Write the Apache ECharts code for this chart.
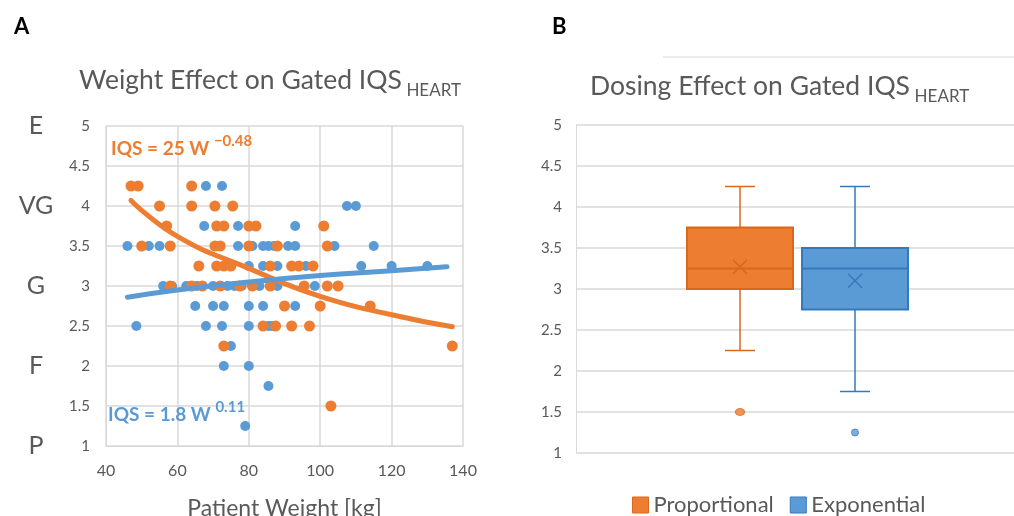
<!DOCTYPE html>
<html>
<head>
<meta charset="utf-8">
<script src="https://cdn.jsdelivr.net/npm/echarts@6/dist/echarts.min.js"></script>
<style>
  html, body { margin: 0; padding: 0; background: #fff; }
  #chart { width: 1014px; height: 516px; }
</style>
</head>
<body>
<div id="chart"></div>
<script>
// panel A (weight kg, IQS)
const orangeWeight = [47, 49, 64, 55, 64, 70.5, 75.5, 57, 71, 73, 80, 82, 101,
  50, 58, 70.5, 72, 80, 88, 102, 66, 71, 73, 75, 86, 92, 94, 98,
  58, 64, 67, 72, 77.5, 81, 86, 95.5, 102, 105, 90, 100, 114,
  84, 87.5, 92, 97, 73, 137, 103];
const orangeIqs = [4.25, 4.25, 4.25, 4, 4, 4, 4, 3.75, 3.75, 3.75, 3.75, 3.75, 3.75,
  3.5, 3.5, 3.5, 3.5, 3.5, 3.5, 3.5, 3.25, 3.25, 3.25, 3.25, 3.25, 3.25, 3.25, 3.25,
  3, 3, 3, 3, 3, 3, 3, 3, 3, 3, 2.75, 2.75, 2.75,
  2.5, 2.5, 2.5, 2.5, 2.25, 2.25, 1.5];
const blueWeight = [68, 72.5, 107.5, 110, 67.5, 77, 93, 101,
  46, 52, 55, 77, 81, 84, 85.5, 87, 91, 93, 104, 115,
  80, 84, 88, 94, 96, 111.5, 120, 130,
  56, 58.5, 62.5, 64, 65.5, 70, 72, 74, 76, 78, 83, 88, 98.5,
  65, 70, 73, 80, 84, 93,
  48.5, 68, 72.5, 80, 85.5, 86.5, 75, 73, 80, 85.5, 79];
const blueIqs = [4.25, 4.25, 4, 4, 3.75, 3.75, 3.75, 3.75,
  3.5, 3.5, 3.5, 3.5, 3.5, 3.5, 3.5, 3.5, 3.5, 3.5, 3.5, 3.5,
  3.25, 3.25, 3.25, 3.25, 3.25, 3.25, 3.25, 3.25,
  3, 3, 3, 3, 3, 3, 3, 3, 3, 3, 3, 3, 3,
  2.75, 2.75, 2.75, 2.75, 2.75, 2.75,
  2.5, 2.5, 2.5, 2.5, 2.5, 2.5, 2.25, 2, 2, 1.75, 1.25];

// trend lines at a few weights
const orangeTrendW = [47, 60, 80, 100, 120, 137];
const orangeTrendIqs = [4.07, 3.62, 3.22, 2.87, 2.64, 2.49];
const blueTrendW = [46, 60, 80, 100, 120, 135.5];
const blueTrendIqs = [2.86, 2.95, 3.05, 3.13, 3.19, 3.24];

const qualityLabels = ['P', 'F', 'G', 'VG', 'E'];

// panel B - box statistics [min, Q1, median, Q3, max]
const doseNames = ['Proportional', 'Exponential'];
const propBox = [2.25, 3.0, 3.25, 3.75, 4.25];
const propMean = 3.27;
const propOutliers = [1.5];
const expoBox = [1.75, 2.75, 3.25, 3.5, 4.25];
const expoMean = 3.1;
const expoOutliers = [1.25];

const ORANGE = '#ED7D31', ORANGE_DARK = '#D9681C';
const BLUE = '#5B9BD5', BLUE_DARK = '#3479BE';
const GREY = '#595959', LINE = '#d9d9d9';
const FONT = 'Lato';

function zip(a, b) {
  return a.map(function (v, i) { return [v, b[i]]; });
}

// box drawn with narrow whisker caps like the original
function boxRenderer(fill, stroke) {
  return function (params, api) {
    const cat = api.value(0);
    const cx = api.coord([cat, api.value(3)])[0];
    const yMin = api.coord([cat, api.value(1)])[1];
    const yQ1 = api.coord([cat, api.value(2)])[1];
    const yMed = api.coord([cat, api.value(3)])[1];
    const yQ3 = api.coord([cat, api.value(4)])[1];
    const yMax = api.coord([cat, api.value(5)])[1];
    const yMean = api.coord([cat, api.value(6)])[1];
    const hw = 53, cap = 15, xs = 7;
    const ln = function (x1, y1, x2, y2, w) {
      return { type: 'line', shape: { x1: x1, y1: y1, x2: x2, y2: y2 },
        style: { stroke: stroke, lineWidth: w || 1.5 } };
    };
    return {
      type: 'group',
      children: [
        ln(cx, yMax, cx, yQ3), ln(cx, yQ1, cx, yMin),
        ln(cx - cap, yMax, cx + cap, yMax), ln(cx - cap, yMin, cx + cap, yMin),
        { type: 'rect', shape: { x: cx - hw, y: yQ3, width: hw * 2, height: yQ1 - yQ3 },
          style: { fill: fill, stroke: stroke, lineWidth: 2 } },
        ln(cx - hw, yMed, cx + hw, yMed, 2),
        ln(cx - xs, yMean - xs, cx + xs, yMean + xs),
        ln(cx - xs, yMean + xs, cx + xs, yMean - xs)
      ]
    };
  };
}

const chart = echarts.init(document.getElementById('chart'));

const valY = {
  type: 'value', min: 1, max: 5, interval: 0.5,
  axisLine: { show: true, lineStyle: { color: LINE } },
  axisTick: { show: false },
  axisLabel: { color: GREY, fontSize: 15, fontFamily: FONT, margin: 14 },
  splitLine: { lineStyle: { color: LINE, width: 1.5 } }
};
const hiddenY = { type: 'value', min: 1, max: 5, show: false };

const titleRich = {
  m: { fontSize: 26.5, color: GREY, fontFamily: FONT, fontWeight: 'normal', verticalAlign: 'bottom', padding: [0, 0, 5, 0] },
  s: { fontSize: 17, color: GREY, fontFamily: FONT, fontWeight: 'normal', verticalAlign: 'bottom' }
};

// keep the grids where they are, the axis name may run off the bottom edge
const gridBase = { outerBoundsMode: 'none', containLabel: false };

const option = {
  animation: false,
  textStyle: { fontFamily: FONT },
  title: [
    { text: 'A', left: 9, top: 11, textStyle: { fontSize: 22, fontWeight: 'bold', color: '#000', fontFamily: FONT } },
    { text: 'B', left: 547, top: 11, textStyle: { fontSize: 22, fontWeight: 'bold', color: '#000', fontFamily: FONT } },
    {
      text: '{m|Weight Effect on Gated IQS} {s|HEART}', left: 74, top: 62,
      textStyle: { fontWeight: 'normal', rich: titleRich }
    },
    {
      text: '{m|Dosing Effect on Gated IQS} {s|HEART}', left: 585, top: 68,
      textStyle: { fontWeight: 'normal', rich: titleRich }
    }
  ],
  graphic: [
    { type: 'line', shape: { x1: 663, y1: 57, x2: 1014, y2: 57 }, style: { stroke: LINE, lineWidth: 1 } },
    {
      type: 'text', left: 111, top: 134, z: 10,
      style: {
        text: '{a|IQS = 25 W }{b|\u22120.48}',
        rich: {
          a: { fontSize: 19, fontWeight: 'bold', fill: ORANGE, fontFamily: FONT, verticalAlign: 'bottom' },
          b: { fontSize: 15, fontWeight: 'bold', fill: ORANGE, fontFamily: FONT, verticalAlign: 'bottom', padding: [0, 0, 9, 0] }
        }
      }
    },
    {
      type: 'text', left: 108, top: 400, z: 10,
      style: {
        text: '{a|IQS = 1.8 W }{b|0.11}',
        rich: {
          a: { fontSize: 19, fontWeight: 'bold', fill: BLUE, fontFamily: FONT, verticalAlign: 'bottom' },
          b: { fontSize: 15, fontWeight: 'bold', fill: BLUE, fontFamily: FONT, verticalAlign: 'bottom', padding: [0, 0, 9, 0] }
        }
      }
    }
  ],
  legend: {
    left: 627, top: 489, itemWidth: 16, itemHeight: 16, itemGap: 16,
    textStyle: { fontSize: 22, color: GREY, fontFamily: FONT },
    data: [
      { name: doseNames[0], icon: 'rect', itemStyle: { color: ORANGE, borderColor: ORANGE_DARK, borderWidth: 1 } },
      { name: doseNames[1], icon: 'rect', itemStyle: { color: BLUE, borderColor: BLUE_DARK, borderWidth: 1 } }
    ]
  },
  grid: [
    Object.assign({ left: 106, top: 126, width: 357, height: 320 }, gridBase),
    Object.assign({ left: 576, top: 125, width: 438, height: 328 }, gridBase),
    Object.assign({ left: 640, top: 125, width: 200, height: 328 }, gridBase),
    Object.assign({ left: 755, top: 125, width: 200, height: 328 }, gridBase)
  ],
  xAxis: [
    {
      gridIndex: 0, type: 'value', min: 40, max: 140, interval: 20,
      axisLine: { show: true, lineStyle: { color: LINE } },
      axisTick: { show: false },
      axisLabel: { color: GREY, fontSize: 16, fontFamily: FONT, margin: 17 },
      splitLine: { lineStyle: { color: LINE, width: 1.5 } },
      name: 'Patient Weight [kg]', nameLocation: 'middle', nameGap: 51,
      nameTextStyle: { fontSize: 23, color: GREY, fontFamily: FONT }
    },
    { gridIndex: 1, type: 'category', data: [''], show: false },
    { gridIndex: 2, type: 'category', data: [doseNames[0]], show: false },
    { gridIndex: 3, type: 'category', data: [doseNames[1]], show: false }
  ],
  yAxis: [
    Object.assign({ gridIndex: 0 }, valY, { axisLabel: Object.assign({}, valY.axisLabel, { margin: 16 }) }),
    {
      gridIndex: 0, type: 'value', position: 'left', min: 1, max: 5, interval: 1,
      axisLine: { show: false }, axisTick: { show: false }, splitLine: { show: false },
      axisLabel: {
        align: 'center', margin: 70, fontSize: 25, color: GREY, fontFamily: FONT,
        formatter: function (v) { return qualityLabels[Math.round(v) - 1]; }
      }
    },
    Object.assign({ gridIndex: 1 }, valY),
    Object.assign({ gridIndex: 2 }, hiddenY),
    Object.assign({ gridIndex: 3 }, hiddenY)
  ],
  series: [
    {
      type: 'scatter', xAxisIndex: 0, yAxisIndex: 0, symbolSize: 10,
      itemStyle: { color: BLUE, opacity: 1 }, data: zip(blueWeight, blueIqs)
    },
    {
      type: 'scatter', xAxisIndex: 0, yAxisIndex: 0, symbolSize: 11,
      itemStyle: { color: ORANGE, opacity: 1 }, data: zip(orangeWeight, orangeIqs)
    },
    {
      type: 'line', xAxisIndex: 0, yAxisIndex: 0, smooth: true, showSymbol: false, z: 3,
      lineStyle: { color: ORANGE, width: 5, cap: 'round' }, data: zip(orangeTrendW, orangeTrendIqs)
    },
    {
      type: 'line', xAxisIndex: 0, yAxisIndex: 0, smooth: true, showSymbol: false, z: 3,
      lineStyle: { color: BLUE, width: 5, cap: 'round' }, data: zip(blueTrendW, blueTrendIqs)
    },
    {
      name: doseNames[0], type: 'custom', xAxisIndex: 2, yAxisIndex: 3,
      itemStyle: { color: ORANGE },
      renderItem: boxRenderer(ORANGE, ORANGE_DARK),
      encode: { x: 0, y: [1, 2, 3, 4, 5, 6] },
      data: [[0].concat(propBox, [propMean])]
    },
    {
      name: doseNames[1], type: 'custom', xAxisIndex: 3, yAxisIndex: 4,
      itemStyle: { color: BLUE },
      renderItem: boxRenderer(BLUE, BLUE_DARK),
      encode: { x: 0, y: [1, 2, 3, 4, 5, 6] },
      data: [[0].concat(expoBox, [expoMean])]
    },
    {
      type: 'scatter', xAxisIndex: 2, yAxisIndex: 3, symbolSize: [9, 7],
      itemStyle: { color: ORANGE, borderColor: ORANGE_DARK, borderWidth: 1 },
      data: propOutliers.map(function (v) { return [0, v]; })
    },
    {
      type: 'scatter', xAxisIndex: 3, yAxisIndex: 4, symbolSize: 7,
      itemStyle: { color: BLUE, borderColor: BLUE_DARK, borderWidth: 1 },
      data: expoOutliers.map(function (v) { return [0, v]; })
    }
  ]
};

chart.setOption(option);
</script>
</body>
</html>
